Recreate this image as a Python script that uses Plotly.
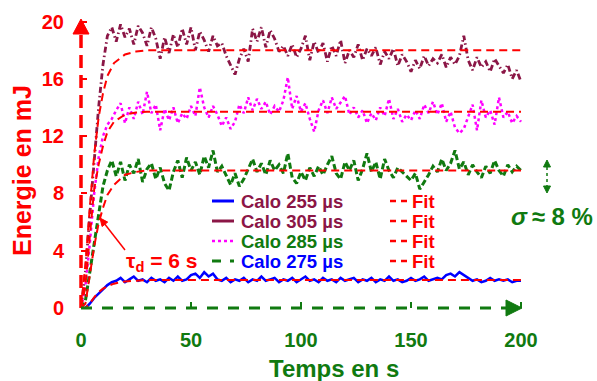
import plotly.graph_objects as go

# ---------------- data ----------------
time_s = list(range(0, 201, 2))

calo_305 = [0, 2.5, 6.5, 10.5, 14.0, 17.0, 19.0, 19.6,
            18.6, 19.8, 18.9, 19.5, 18.4, 19.7, 19.2, 18.3, 19.6, 18.8,
            17.4, 18.9, 17.8, 19.1, 18.2, 19.5,
            18.4, 19.6, 18.0, 19.3, 18.7, 17.9, 19.0, 18.3,
            18.5, 17.6, 16.9, 16.3, 17.4, 18.1, 17.2,
            19.5, 18.6, 19.6, 18.2, 19.4, 18.8, 17.9,
            18.3, 17.6, 18.4, 17.5, 18.1, 19.0, 17.3, 18.6, 17.8,
            18.5, 17.2, 18.3, 17.6, 18.7, 17.1, 18.0, 17.5, 18.4, 17.3, 18.1,
            17.6, 18.2, 17.0, 17.9, 17.4, 18.1, 16.9, 17.7, 17.2,
            16.5, 17.3, 16.7, 17.6, 16.9, 17.4,
            17.1, 17.7, 16.8, 17.5, 17.0, 17.6,
            19.0,
            17.3, 16.6, 17.5, 16.8, 17.2, 16.5, 17.4, 16.9,
            16.4, 17.0, 16.0, 16.6, 15.8]

calo_285 = [0, 1.5, 4.5, 8.0, 10.5, 12.0, 12.8, 13.2,
            13.8, 14.3, 12.9, 14.0, 13.2, 14.4, 13.5, 15.1, 13.6, 14.2,
            12.4, 13.9, 13.1, 14.0, 12.9, 13.6,
            13.2, 14.1, 13.4, 15.4, 14.0, 13.3, 14.1, 13.5,
            12.7, 13.3, 12.5, 13.0, 14.2, 13.6, 14.7,
            13.8, 14.6, 13.9, 14.4, 13.5, 14.1, 13.7,
            14.5, 16.1, 13.9, 14.8, 13.7, 14.3, 13.2, 12.3, 13.8,
            14.5, 13.6, 14.7, 13.9, 14.4, 14.8, 13.5, 14.0, 13.3, 13.8, 12.9,
            13.6, 13.1, 14.0, 13.4, 14.6, 13.2, 13.9, 13.0, 13.5,
            13.1, 13.8, 13.2, 14.2, 13.6, 14.4,
            13.5, 14.3, 13.0, 13.7, 12.6, 12.2,
            12.5,
            13.4, 14.2, 12.4, 14.5, 13.3, 13.8, 12.8, 14.7,
            13.3, 13.7, 12.9, 13.4, 13.0]

calo_275 = [0, 0.5, 2.5, 4.5, 6.5, 8.5, 9.6, 10.3,
            9.2, 10.2, 8.9, 10.0, 9.4, 10.4, 8.8, 9.7, 10.1, 9.0,
            9.8, 8.7, 8.2, 9.5, 10.3, 9.1,
            10.5, 9.6, 10.2, 9.3, 10.6, 9.8, 11.0, 9.5,
            9.9, 9.2, 8.6, 9.4, 8.5, 9.0, 9.7,
            10.4, 9.5, 10.1, 9.3, 10.3, 9.6, 10.0,
            9.4, 10.8, 9.1, 8.7, 9.5, 8.9, 9.8, 9.2, 9.9,
            9.3, 10.0, 10.6, 9.4, 9.0, 10.2, 9.6, 10.3, 8.9, 9.7, 10.8,
            9.5, 10.2, 9.0, 10.4, 9.6, 9.1, 9.8, 9.5, 9.2,
            8.9, 9.4, 8.3, 8.8, 9.3, 9.9,
            9.5, 10.4, 9.6, 10.1, 11.0, 9.7,
            10.2,
            9.3, 10.0, 9.5, 9.1, 9.9, 9.4, 10.3, 9.6,
            9.2, 10.0, 9.5, 9.9, 9.6]

calo_255 = [0, 0.0, 0.3, 0.7, 1.0, 1.3, 1.6, 1.8,
            1.9, 2.1, 1.8, 2.0, 2.2, 1.9, 2.0, 1.8, 2.1, 1.9,
            2.0, 1.8, 2.1, 1.9, 2.2, 1.9,
            2.0, 2.3, 2.4, 2.1, 2.5, 2.2, 2.4, 2.0,
            1.9, 2.1, 1.8, 2.0, 1.9, 2.1, 1.8,
            2.0, 1.9, 2.2, 1.9, 2.0, 2.1, 1.8,
            2.0, 1.9, 2.1, 1.8, 2.0, 2.2, 1.9, 2.0, 1.8,
            2.1, 1.9, 2.0, 1.8, 2.1, 1.9, 2.0, 2.1, 1.8, 2.0, 1.9,
            2.1, 1.8, 2.0, 1.9, 2.2, 1.9, 2.0, 1.8, 1.9,
            2.1, 1.9, 2.0, 2.2, 1.9, 2.0,
            2.1, 2.0, 2.3, 2.4, 2.2, 2.5,
            2.3,
            2.1, 1.9, 2.0, 1.8, 1.9, 2.1, 1.9, 2.0,
            1.9, 2.0, 1.8, 1.9, 1.9]

fit_time = [0, 2, 4, 6, 8, 10, 12, 15, 20, 25, 30, 40, 60, 200]
fit_305 = [0, 3.0, 7.0, 10.7, 13.3, 15.0, 16.2, 17.1, 17.7, 17.9, 18.0, 18.0, 18.0, 18.0]
fit_285 = [0, 1.5, 5.0, 8.3, 10.0, 11.3, 12.3, 13.0, 13.5, 13.65, 13.7, 13.7, 13.7, 13.7]
fit_275 = [0, 0.3, 2.3, 4.3, 5.9, 7.0, 7.9, 8.6, 9.3, 9.5, 9.6, 9.6, 9.6, 9.6]
fit_255 = [0, 0.0, 0.3, 0.75, 1.1, 1.35, 1.52, 1.7, 1.85, 1.92, 1.95, 1.96, 1.96, 1.96]

x_ticks = [0, 50, 100, 150, 200]
y_ticks = [0, 4, 8, 12, 16, 20]

# ---------------- style ----------------
MAROON = "#8B1646"
MAGENTA = "#FF00FF"
GREEN = "#107A10"
BLUE = "#0000FF"
RED = "#FF0000"
FONT = "Liberation Sans"

W, H = 597, 381
L, R, T, B = 81, 74, 16, 73
PW, PH = W - L - R, H - T - B


def px(xp):
    return (xp - L) / PW


def py(yp):
    return (H - B - yp) / PH


def path(points):
    return "M " + " L ".join(f"{px(a)},{py(b)}" for a, b in points) + " Z"


fig = go.Figure()

fig.add_trace(go.Scatter(x=time_s, y=calo_305, mode="lines",
                         line=dict(color=MAROON, width=2.8, dash="6px,3px,1.5px,3px")))
fig.add_trace(go.Scatter(x=time_s, y=calo_285, mode="lines",
                         line=dict(color=MAGENTA, width=2.5, dash="dot")))
fig.add_trace(go.Scatter(x=time_s, y=calo_275, mode="lines",
                         line=dict(color=GREEN, width=3, dash="6px,3px")))
fig.add_trace(go.Scatter(x=time_s, y=calo_255, mode="lines",
                         line=dict(color=BLUE, width=2.5)))
for fy in (fit_305, fit_285, fit_275, fit_255):
    fig.add_trace(go.Scatter(x=fit_time, y=fy, mode="lines",
                             line=dict(color=RED, width=2, dash="8px,5px")))

shapes = []
# y axis (red dashed) and x axis (green dashed)
shapes.append(dict(type="line", xref="paper", yref="paper",
                   x0=0, x1=0, y0=0, y1=py(33),
                   line=dict(color=RED, width=3.5, dash="13px,7px")))
shapes.append(dict(type="line", xref="paper", yref="paper",
                   x0=0, x1=px(506), y0=0, y1=0,
                   line=dict(color=GREEN, width=3, dash="11px,10px")))
# axis arrow heads
shapes.append(dict(type="path", xref="paper", yref="paper",
                   path=path([(73, 34), (89, 34), (81, 19)]),
                   fillcolor=RED, line=dict(color=RED, width=1)))
shapes.append(dict(type="path", xref="paper", yref="paper",
                   path=path([(506, 300), (506, 316), (522, 308)]),
                   fillcolor=GREEN, line=dict(color=GREEN, width=1)))

annotations = []
# legend
rows = [(201, BLUE, "solid", 3, "Calo 255 µs", MAROON),
        (221, MAROON, "solid", 3, "Calo 305 µs", MAROON),
        (241, MAGENTA, "dot", 2.5, "Calo 285 µs", GREEN),
        (261, GREEN, "dash", 3, "Calo 275 µs", BLUE)]
for yp, lc, ld, lw, txt, tc in rows:
    shapes.append(dict(type="line", xref="paper", yref="paper",
                       x0=px(212), x1=px(234), y0=py(yp), y1=py(yp),
                       line=dict(color=lc, width=lw, dash=ld)))
    shapes.append(dict(type="line", xref="paper", yref="paper",
                       x0=px(390), x1=px(408), y0=py(yp), y1=py(yp),
                       line=dict(color=RED, width=2.5, dash="6px,5px")))
    annotations.append(dict(xref="paper", yref="paper", x=px(239), y=py(yp),
                            xanchor="left", yanchor="middle", showarrow=False,
                            text=f"<b>{txt}</b>",
                            font=dict(family=FONT, size=18.5, color=tc)))
    annotations.append(dict(xref="paper", yref="paper", x=px(410), y=py(yp),
                            xanchor="left", yanchor="middle", showarrow=False,
                            text="<b>Fit</b>",
                            font=dict(family=FONT, size=18.5, color=RED)))

# tau annotation (arrow drawn as shapes)
shapes.append(dict(type="line", xref="paper", yref="paper",
                   x0=px(125), y0=py(250), x1=px(104.9), y1=py(224.3),
                   line=dict(color=RED, width=1.5)))
shapes.append(dict(type="path", xref="paper", yref="paper",
                   path=path([(100, 218), (107.7, 222.1), (102.1, 226.5)]),
                   fillcolor=RED, line=dict(color=RED, width=1)))
annotations.append(dict(xref="paper", yref="paper", x=px(162), y=py(262),
                        xanchor="center", yanchor="middle", showarrow=False,
                        text="<b>τ<sub>d</sub> = 6 s</b>",
                        font=dict(family=FONT, size=21, color=RED)))

# sigma annotation
shapes.append(dict(type="line", xref="paper", yref="paper",
                   x0=px(547), x1=px(547), y0=py(167), y1=py(186),
                   line=dict(color=GREEN, width=1.5, dash="dot")))
shapes.append(dict(type="path", xref="paper", yref="paper",
                   path=path([(547, 160), (543.5, 167), (550.5, 167)]),
                   fillcolor=GREEN, line=dict(color=GREEN, width=1)))
shapes.append(dict(type="path", xref="paper", yref="paper",
                   path=path([(547, 193), (543.5, 186), (550.5, 186)]),
                   fillcolor=GREEN, line=dict(color=GREEN, width=1)))
annotations.append(dict(xref="paper", yref="paper", x=px(552), y=py(216),
                        xanchor="center", yanchor="middle", showarrow=False,
                        text="<b><i>σ</i>\u2009≈\u00a08\u00a0%</b>",
                        font=dict(family=FONT, size=24, color=GREEN)))

# axis titles
annotations.append(dict(xref="paper", yref="paper", x=px(334), y=py(368),
                        xanchor="center", yanchor="middle", showarrow=False,
                        text="<b>Temps en s</b>",
                        font=dict(family=FONT, size=24, color=GREEN)))
annotations.append(dict(xref="paper", yref="paper", x=px(22), y=py(171),
                        xanchor="center", yanchor="middle", showarrow=False,
                        textangle=-90, text="<b>Energie en mJ</b>",
                        font=dict(family=FONT, size=25, color=RED)))

fig.update_layout(
    width=W, height=H,
    margin=dict(l=L, r=R, t=T, b=B, autoexpand=False),
    paper_bgcolor="white", plot_bgcolor="white",
    showlegend=False,
    shapes=shapes, annotations=annotations,
    xaxis=dict(range=[0, PW / 2.2], tickvals=x_ticks, showgrid=False,
               zeroline=False, showline=False, ticks="inside", ticklen=6,
               tickwidth=2, tickcolor=GREEN, ticklabelstandoff=18,
               tickfont=dict(family=FONT, size=20, color=GREEN, weight="bold")),
    yaxis=dict(range=[0, PH / 14.325], tickvals=y_ticks, showgrid=False,
               zeroline=False, showline=False, ticks="inside", ticklen=6,
               tickwidth=2, tickcolor=RED, ticklabelstandoff=16,
               tickfont=dict(family=FONT, size=20, color=RED, weight="bold")),
)

fig.write_html("out.html",
               config={"displayModeBar": False},
               post_script="document.body.style.margin='0px';"
                           "document.body.style.overflow='hidden';")
